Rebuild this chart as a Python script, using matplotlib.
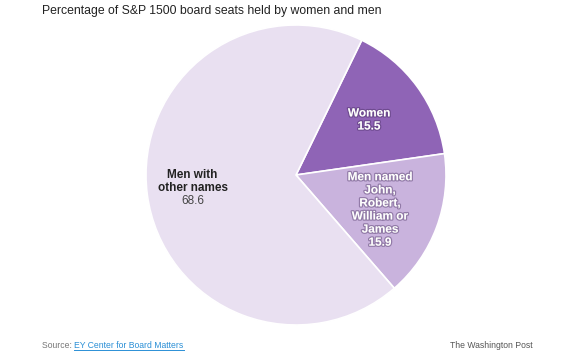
import matplotlib
matplotlib.use("Agg")
import matplotlib.pyplot as plt
import matplotlib.patheffects as pe

plt.rcParams['font.family'] = ['Liberation Sans', 'DejaVu Sans']

categories = ["Women", "Men named\nJohn,\nRobert,\nWilliam or\nJames", "Men with\nother names"]
values = [15.5, 15.9, 68.6]
colors = ["#8f64b6", "#c9b3dd", "#e9e0f1"]

fig = plt.figure(figsize=(5.8, 3.6), dpi=100)
ax = fig.add_axes([(296 - 150) / 580, (360 - 325) / 360, 300 / 580, 300 / 360])
ax.pie(values, colors=colors, startangle=64, counterclock=False, radius=1,
       wedgeprops=dict(edgecolor="white", linewidth=1.2))
ax.set_xlim(-1, 1)
ax.set_ylim(-1, 1)
ax.set_aspect("equal")
ax.axis("off")

stroke = [pe.withStroke(linewidth=1.8, foreground=(0.25, 0.15, 0.35, 0.4))]
ax.text(0.487, 0.367, f"{categories[0]}\n{values[0]}", ha="center", va="center",
        color="white", fontsize=8.5, fontweight="bold", linespacing=1.12, path_effects=stroke)
ax.text(0.56, -0.233, f"{categories[1]}\n{values[1]}", ha="center", va="center",
        color="white", fontsize=8.5, fontweight="bold", linespacing=1.12, path_effects=stroke)
ax.text(-0.69, -0.045, categories[2], ha="center", va="center",
        color="#222222", fontsize=8.5, fontweight="bold", linespacing=1.12)
ax.text(-0.69, -0.175, f"{values[2]}", ha="center", va="center",
        color="#444444", fontsize=8.5)

fig.text(42 / 580, 1 - 11 / 360, "Percentage of S&P 1500 board seats held by women and men",
         ha="left", va="center", fontsize=8.8, color="#222222")
ypos = 1 - 346 / 360
t1 = fig.text(42 / 580, ypos, "Source: ", ha="left", va="center", fontsize=6.2, color="#777777")
fig.canvas.draw()
bb = t1.get_window_extent()
t2 = fig.text(bb.x1 / 580, ypos, "EY Center for Board Matters", ha="left", va="center",
              fontsize=6.2, color="#2a8fd6")
fig.canvas.draw()
bb2 = t2.get_window_extent()
fig.add_artist(plt.Line2D([bb2.x0 / 580, bb2.x1 / 580], [(bb2.y0 + 0.5) / 360] * 2, color="#2a8fd6", lw=0.7))
fig.text(533 / 580, ypos, "The Washington Post", ha="right", va="center", fontsize=6.2, color="#555555")

fig.savefig("out.png", dpi=100)
